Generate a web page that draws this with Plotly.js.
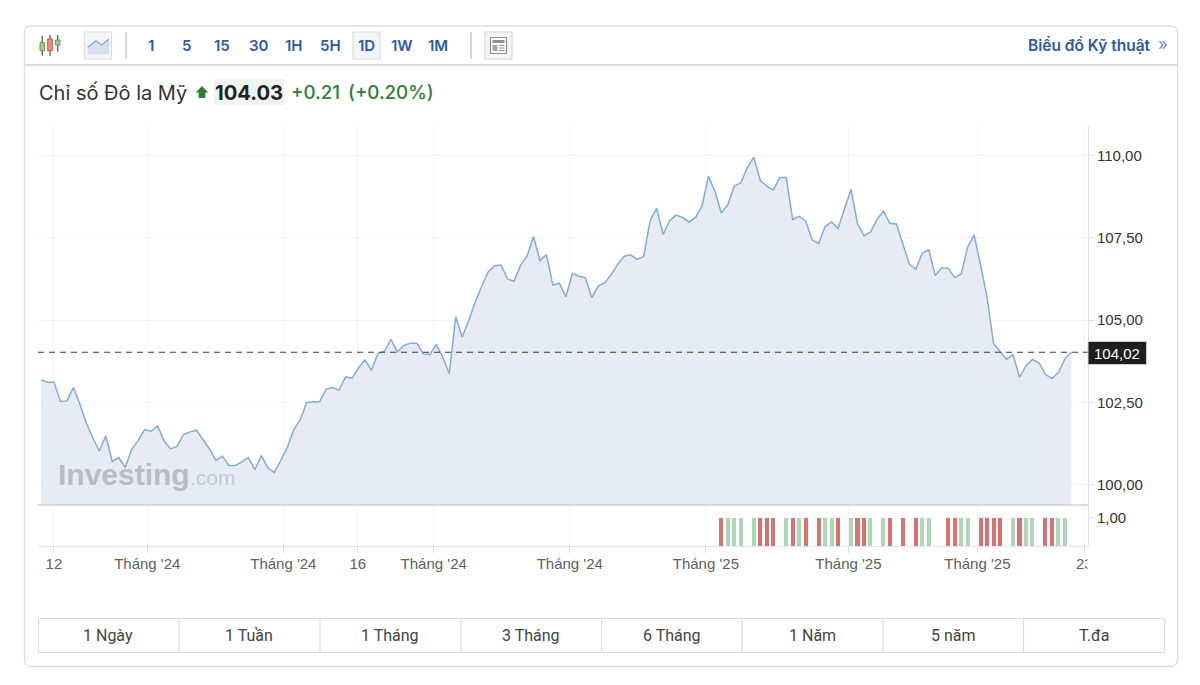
<!DOCTYPE html>
<html><head><meta charset="utf-8">
<script src="https://cdn.plot.ly/plotly-3.0.1.min.js"></script>
<style>html,body{margin:0;padding:0;background:#fff;overflow:hidden}#c{width:1200px;height:685px}</style>
</head><body><div id="c"></div>
<script>
// ---- data ----
const closeValues = [103.18,103.11,103.11,102.53,102.54,102.95,102.45,101.86,101.42,101.01,
101.48,100.70,100.82,100.52,101.07,101.34,101.67,101.62,101.78,101.32,
101.08,101.16,101.52,101.60,101.65,101.36,101.08,100.73,100.86,100.58,
100.58,100.69,100.82,100.45,100.88,100.51,100.36,100.73,101.13,101.66,
101.97,102.49,102.51,102.52,102.90,102.95,102.87,103.27,103.23,103.54,
103.79,103.47,103.98,104.05,104.41,104.03,104.23,104.29,104.29,103.97,
103.95,104.26,103.87,103.37,105.10,104.48,104.98,105.54,106.02,106.46,
106.65,106.67,106.25,106.18,106.66,106.94,107.54,106.80,106.99,106.06,
106.12,105.71,106.42,106.33,106.29,105.68,106.04,106.13,106.38,106.69,
106.94,106.98,106.84,106.93,108.02,108.40,107.60,108.02,108.19,108.12,
107.98,108.12,108.46,109.37,108.91,108.25,108.51,109.07,109.17,109.63,
109.95,109.24,109.07,108.95,109.33,109.33,108.05,108.15,108.01,107.44,
107.32,107.84,107.98,107.78,108.38,108.97,107.93,107.56,107.67,108.05,
108.31,107.94,107.92,107.30,106.70,106.54,107.03,107.14,106.35,106.59,
106.57,106.29,106.40,107.22,107.59,106.66,105.69,104.28,104.04,103.81,
103.95,103.26,103.61,103.80,103.70,103.35,103.22,103.40,103.82,104.02];
const upBarIndex = [106,107,108,110,115,117,121,122,125,128,130,136,137,142,143,150,152,153,157,158];
const downBarIndex = [105,111,112,113,116,118,120,123,126,127,131,133,135,140,141,145,146,147,148,151,155,156];
const barValue = 1;
const lastPrice = 104.02;
const xTickIndex = [2,16.4,37.4,48.9,60.6,81.6,102.6,124.6,144.5,161];
const xTickLabels = ["12","Tháng '24","Tháng '24","16","Tháng '24","Tháng '24","Tháng '25","Tháng '25","Tháng '25","23"];
const yTickValues = [100,102.5,105,107.5,110];
const yTickLabels = ["100,00","102,50","105,00","107,50","110,00"];
const intervalLabels = ["1","5","15","30","1H","5H","1D","1W","1M"];
const rangeLabels = ["1 Ngày","1 Tuần","1 Tháng","3 Tháng","6 Tháng","1 Năm","5 năm","T.đa"];

// ---- page geometry helpers ----
const W = 1200, H = 685;
const PX = p => p / W, PY = p => 1 - p / H;
const path = (d, o) => Object.assign({type:'path', xref:'paper', yref:'paper', layer:'below',
  path: d.map(c => c[0] + (c.length>1 ? ' ' + PX(c[1]) + ',' + PY(c[2]) : '')).join(' ')}, o);
const rect = (x0,y0,x1,y1,fill,line,lw,layer) => ({type:'rect',xref:'paper',yref:'paper',layer:layer||'below',
  x0:PX(x0),x1:PX(x1),y0:PY(y0),y1:PY(y1),fillcolor:fill||'rgba(0,0,0,0)',line:{color:line||'rgba(0,0,0,0)',width:lw===undefined?1:lw}});
const seg = (x0,y0,x1,y1,color,w,layer) => ({type:'line',xref:'paper',yref:'paper',layer:layer||'below',
  x0:PX(x0),x1:PX(x1),y0:PY(y0),y1:PY(y1),line:{color:color,width:w||1}});
const label = (x,y,text,size,color,family,anchor,weight) => ({xref:'paper',yref:'paper',x:PX(x),y:PY(y),text:text,showarrow:false,
  xanchor:anchor||'center',yanchor:'middle',borderpad:0,font:{size:size,color:color,family:family,weight:weight||400}});

const INTER = 'Inter, sans-serif', LIB = '"Liberation Sans", Arial, sans-serif', ROB = 'Roboto, sans-serif';
const BLUE = '#2c5aa6', GREEN = '#2e7d3a';

const shapes = [];
// card
const L=24.5,T=26,Rr=1177.5,B=666.5,r=7;
shapes.push(path([['M',L+r,T],['L',Rr-r,T],['Q',Rr,T],['',Rr,T+r],['L',Rr,B-r],['Q',Rr,B],['',Rr-r,B],['L',L+r,B],['Q',L,B],['',L,B-r],['L',L,T+r],['Q',L,T],['',L+r,T],['Z']],
  {line:{color:'#dfdfdf',width:1.3},fillcolor:'#fff'}));
shapes.push(seg(25,65,1177,65,'#b9b9b9',1.2));
// toolbar dividers and buttons
shapes.push(seg(126,32,126,59,'#c9c9c9',1.5));
shapes.push(seg(471,32,471,59,'#c9c9c9',1.5));
shapes.push(rect(84.5,32,111.5,59,'#f4f5f6','#dedede',1.2));
shapes.push(rect(353,32,380,59,'#f4f5f6','#dedede',1.2));
shapes.push(rect(485,32,512,59,'#f4f5f6','#d6d6d6',1.2));
// candle icon
[[42.3,35.7,55.7,42.7,50.7,'#9ccf8f','#5f9e4f'],[50,35,55.7,39,50.7,'#ee8f85','#c7574c'],[57.7,35,51.7,40,45,'#9ccf8f','#5f9e4f']].forEach(c=>{
  shapes.push(seg(c[0],c[1],c[0],c[2],'#5b5b5b',1.3));
  shapes.push(rect(c[0]-2.3,c[3],c[0]+2.3,c[4],c[5],c[6],1));
});
// line icon
shapes.push(path([['M',87.7,47.3],['L',96,40.7],['L',101.7,45],['L',109,39.3],['L',109,54.3],['L',87.7,54.3],['Z']],{fillcolor:'#d6e0f1',line:{width:0}}));
shapes.push(path([['M',87.7,47.3],['L',96,40.7],['L',101.7,45],['L',109,39.3]],{line:{color:'#7ea3d3',width:1.3}}));
// news icon
shapes.push(rect(490.5,37.5,506.5,53.5,'#fff','#8e8e8e',1.2));
shapes.push(rect(492.5,40,504.5,43,'#8e8e8e','#8e8e8e',0));
shapes.push(rect(492.5,45,497.5,51,'#a8a8a8','#a8a8a8',0));
[45.5,48,50.5].forEach(y=>shapes.push(seg(499,y,504.5,y,'#8e8e8e',1)));
// headline
shapes.push(rect(214,79,284,105,'#eef4ef','#eef4ef',0));
shapes.push(path([['M',202,86],['L',208.3,92.5],['L',205.3,92.5],['L',205.3,98],['L',198.7,98],['L',198.7,92.5],['L',195.7,92.5],['Z']],{fillcolor:GREEN,line:{width:0}}));
// range buttons
shapes.push(rect(38.5,618.5,1164.5,652.5,'#fff','#dcdcdc',1.2));
[179,320,461,601.5,742,883,1023.5].forEach(x=>shapes.push(seg(x,618.5,x,652.5,'#dcdcdc',1.2)));
// panel separator, mask for the clipped last label, last price
shapes.push(seg(38,505,1088,505,'#bdbdbd',1.2,'above'));
shapes.push(rect(1087.5,554,1096,574,'#fff','#fff',0,'above'));
shapes.push({type:'line',xref:'paper',yref:'y',layer:'above',x0:PX(38),x1:PX(1088),y0:lastPrice,y1:lastPrice,
  line:{color:'#3a3a3a',width:1.2,dash:'6px,5px'}});
shapes.push(rect(1088,341.5,1146.5,364.5,'#1e1e1e','#cfcfcf',1,'above'));

const annotations = [];
const intervalX = [151,186,222,259,294,330,366,402,438];
intervalLabels.forEach((t,i)=>annotations.push(label(intervalX[i],45.5,t,15,BLUE,INTER,'center',600)));
annotations.push(label(1152,45.5,'Biểu đồ Kỹ thuật',15.5,BLUE,INTER,'right',600));
annotations.push(label(1163,44,'»',17,'#6f8fc4',INTER,'center',400));
annotations.push(label(37.5,92.5,'Chỉ số Đô la Mỹ',20,'#333333',INTER,'left',400));
annotations.push(label(213.5,92,'104.03',20.2,'#222222',INTER,'left',700));
annotations.push(label(290,92,'+0.21',18.7,GREEN,INTER,'left',500));
annotations.push(label(346.5,92,'(+0.20%)',18.7,GREEN,INTER,'left',500));
annotations.push(label(57,474.5,'Investing',30,'#b9bcc2',LIB,'left',700));
annotations.push(label(189,477.5,'.com',21,'#c3c9d2',LIB,'left',400));
annotations.push(label(1117,353.5,'104,02',15,'#ffffff',LIB,'center',400));
const rangeX = [108,249,390,531,671.5,812.5,953,1094];
rangeLabels.forEach((t,i)=>annotations.push(label(rangeX[i],635.5,t,16,'#444444',ROB,'center',400)));

const days = closeValues.map((_,i)=>i);
const traces = [
 {type:'scatter',mode:'lines',x:days,y:closeValues,xaxis:'x',yaxis:'y',fill:'tozeroy',fillcolor:'#e7ecf4',
  line:{color:'#82acd7',width:1.5},hoverinfo:'skip'},
 {type:'bar',x:upBarIndex,y:upBarIndex.map(()=>barValue),xaxis:'x',yaxis:'y2',width:0.62,marker:{color:'#aed7b4',line:{width:0}},hoverinfo:'skip'},
 {type:'bar',x:downBarIndex,y:downBarIndex.map(()=>barValue),xaxis:'x',yaxis:'y2',width:0.62,marker:{color:'#d8736f',line:{width:0}},hoverinfo:'skip'}
];
const layout = {
 width:W,height:H,margin:{l:0,r:0,t:0,b:0,pad:0},paper_bgcolor:'#fff',plot_bgcolor:'rgba(0,0,0,0)',showlegend:false,bargap:0,
 xaxis:{domain:[PX(38),PX(1088)],range:[-0.46,161.57],anchor:'y2',tickmode:'array',tickvals:xTickIndex,ticktext:xTickLabels,
   ticks:'outside',ticklen:6,tickcolor:'#d9dde9',tickfont:{family:LIB,size:15,color:'#606060'},ticklabelstandoff:-2,
   showgrid:true,gridcolor:'#f2f4f8',gridwidth:1,showline:true,linecolor:'#e2e5ef',linewidth:1,zeroline:false,automargin:false},
 yaxis:{domain:[PY(505),PY(126)],range:[99.377,110.897],anchor:'x',side:'right',tickmode:'array',tickvals:yTickValues,ticktext:yTickLabels,
   ticks:'outside',ticklen:5,tickcolor:'#d9e1ec',tickfont:{family:LIB,size:15,color:'#333333'},
   showgrid:true,gridcolor:'#f2f4f8',gridwidth:1,showline:true,linecolor:'#d9e1ec',linewidth:1,zeroline:false,automargin:false},
 yaxis2:{domain:[PY(546),PY(505)],range:[0,1.464],anchor:'x',side:'right',tickmode:'array',tickvals:[barValue],ticktext:['1,00'],
   ticks:'outside',ticklen:5,tickcolor:'#d9e1ec',tickfont:{family:LIB,size:15,color:'#333333'},
   showgrid:false,showline:true,linecolor:'#d9e1ec',linewidth:1,zeroline:false,automargin:false},
 shapes:shapes,annotations:annotations
};
Plotly.newPlot('c',traces,layout,{displayModeBar:false,staticPlot:true});
</script></body></html>
